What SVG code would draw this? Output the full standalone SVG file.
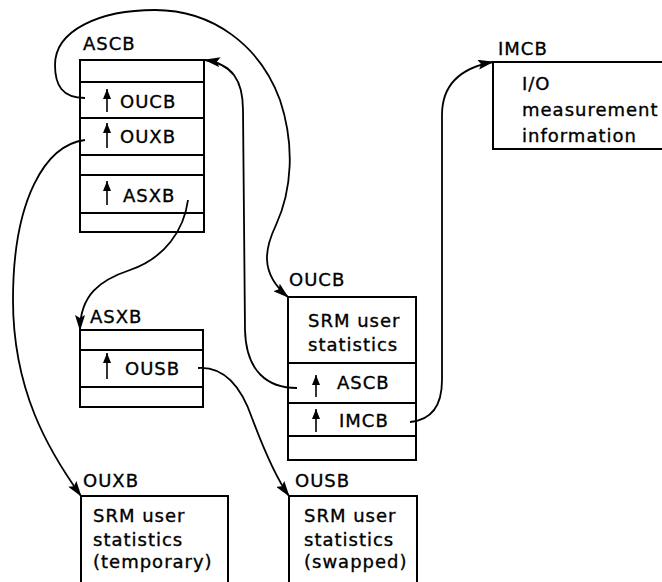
<svg xmlns="http://www.w3.org/2000/svg" width="662" height="582" viewBox="0 0 662 582">
  <style>
    .box { fill: #fff; stroke: #000; stroke-width: 2; }
    .sep { stroke: #000; stroke-width: 2; }
    .link { fill: none; stroke: #000; stroke-width: 1.8; marker-end: url(#head); }
    .ptr { stroke: #000; stroke-width: 1.6; marker-end: url(#tip); }
    text { font-family: "DejaVu Sans", "Liberation Sans", sans-serif; font-size: 18px; letter-spacing: 1px; fill: #000; stroke: #000; stroke-width: 0.35; }
  </style>
  <defs>
    <marker id="head" markerUnits="userSpaceOnUse" markerWidth="16" markerHeight="10" refX="15" refY="5" orient="auto">
      <path d="M0,0 L16,5 L0,10 L3,5 z" fill="#000"/>
    </marker>
    <marker id="tip" markerUnits="userSpaceOnUse" markerWidth="10" markerHeight="8" refX="10" refY="4" orient="auto">
      <path d="M0,0 L10,4 L0,8 z" fill="#000"/>
    </marker>
  </defs>
  <rect width="662" height="582" fill="#fff"/>

  <!-- ASCB control block -->
  <g id="ascb">
    <text x="83" y="50">ASCB</text>
    <rect class="box" x="80" y="60" width="124" height="172"/>
    <line class="sep" x1="80" y1="82" x2="204" y2="82"/>
    <line class="sep" x1="80" y1="118" x2="204" y2="118"/>
    <line class="sep" x1="80" y1="155" x2="204" y2="155"/>
    <line class="sep" x1="80" y1="175" x2="204" y2="175"/>
    <line class="sep" x1="80" y1="213" x2="204" y2="213"/>
    <line class="ptr" x1="107" y1="112" x2="107" y2="89"/>
    <text x="120" y="108">OUCB</text>
    <line class="ptr" x1="107" y1="148" x2="107" y2="123"/>
    <text x="120" y="143">OUXB</text>
    <line class="ptr" x1="107" y1="205" x2="107" y2="181"/>
    <text x="123" y="202">ASXB</text>
  </g>

  <!-- ASXB extension block -->
  <g id="asxb">
    <text x="90" y="323">ASXB</text>
    <rect class="box" x="80" y="330" width="123" height="77"/>
    <line class="sep" x1="80" y1="350" x2="203" y2="350"/>
    <line class="sep" x1="80" y1="387" x2="203" y2="387"/>
    <line class="ptr" x1="107" y1="379" x2="107" y2="353"/>
    <text x="125" y="375">OUSB</text>
  </g>

  <!-- OUCB user control block -->
  <g id="oucb">
    <text x="289" y="286">OUCB</text>
    <rect class="box" x="288" y="297" width="128" height="163"/>
    <line class="sep" x1="288" y1="363" x2="416" y2="363"/>
    <line class="sep" x1="288" y1="403" x2="416" y2="403"/>
    <line class="sep" x1="288" y1="436" x2="416" y2="436"/>
    <text x="308" y="327">SRM user</text>
    <text x="308" y="351">statistics</text>
    <line class="ptr" x1="316" y1="397" x2="316" y2="375"/>
    <text x="337" y="389">ASCB</text>
    <line class="ptr" x1="316" y1="432" x2="316" y2="409"/>
    <text x="339" y="427">IMCB</text>
  </g>

  <!-- IMCB measurement block -->
  <g id="imcb">
    <text x="498" y="55">IMCB</text>
    <rect class="box" x="493" y="62" width="180" height="87"/>
    <text x="522" y="90">I/O</text>
    <text x="522" y="116">measurement</text>
    <text x="522" y="142">information</text>
  </g>

  <!-- OUXB extension block -->
  <g id="ouxb">
    <text x="83" y="487">OUXB</text>
    <rect class="box" x="81" y="496" width="147" height="100"/>
    <text x="93" y="522">SRM user</text>
    <text x="93" y="546">statistics</text>
    <text x="93" y="568">(temporary)</text>
  </g>

  <!-- OUSB swap block -->
  <g id="ousb">
    <text x="295" y="487">OUSB</text>
    <rect class="box" x="289" y="496" width="128" height="100"/>
    <text x="304" y="522">SRM user</text>
    <text x="304" y="546">statistics</text>
    <text x="304" y="568">(swapped)</text>
  </g>

  <!-- pointer connectors -->
  <g id="connectors">
    <path class="link" d="M85,98 C62,98 55,85 55,65 C55,30 100,10 155,10 C212,10 260,45 280,100 C295,145 292,190 276,225 C266,246 258,272 288,297"/>
    <path class="link" d="M297,388 C268,388 246,372 245,330 L243,110 C243,80 232,64 205,60"/>
    <path class="link" d="M188,200 C184,230 165,258 130,270 C100,280 80,295 80,330"/>
    <path class="link" d="M85,140 C45,145 13,200 13,300 C13,390 48,450 81,496"/>
    <path class="link" d="M198,368 C228,366 243,392 252,418 C264,450 276,478 289,496"/>
    <path class="link" d="M410,422 C432,420 442,405 442,380 L442,115 C442,85 460,68 493,62"/>
  </g>
</svg>
